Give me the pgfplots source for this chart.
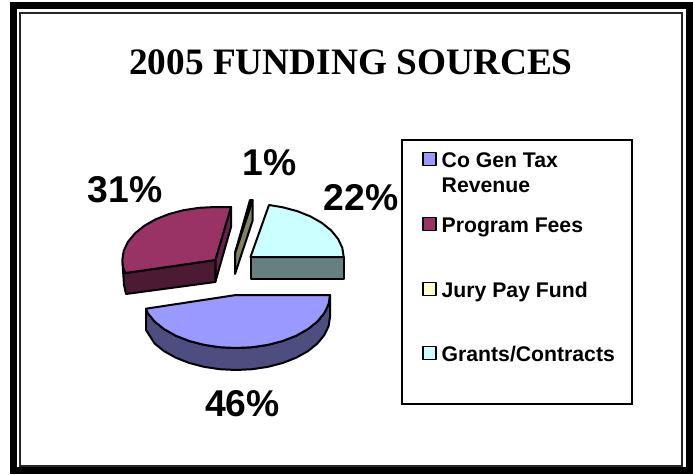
\documentclass[border=0pt]{standalone}
\usepackage{pgfplots}
\pgfplotsset{compat=1.18}
\usepackage{fontspec}
\setmainfont{Liberation Sans}
\newfontfamily\titlefont{Liberation Serif}
\definecolor{cblue}{HTML}{9999FF}
\definecolor{cbluew}{HTML}{4D4D80}
\definecolor{cmar}{HTML}{993366}
\definecolor{cmarw}{HTML}{4D1A33}
\definecolor{cmars}{HTML}{66224D}
\definecolor{cyel}{HTML}{FFFFCC}
\definecolor{cyelw}{HTML}{808066}
\definecolor{ccya}{HTML}{CCFFFF}
\definecolor{ccyaw}{HTML}{668080}
\begin{document}
\begin{tikzpicture}[x=1pt,y=1pt]
\useasboundingbox (0,0) rectangle (693,474);
\begin{axis}[at={(0,0)},anchor=south west,width=693pt,height=474pt,scale only axis,
  xmin=0,xmax=693,ymin=0,ymax=474,y dir=reverse,hide axis,clip=false,
  every axis plot/.append style={line width=2pt,line join=round}]
% frame
\addplot[draw=black,line width=7pt,line join=miter] coordinates {(13.5,5.5)(689.5,5.5)(689.5,470.5)(13.5,470.5)(13.5,5.5)(689.5,5.5)};
\addplot[draw=black!85,line width=2pt,line join=miter] coordinates {(20,13)(682,13)(682,466)(20,466)(20,13)(682,13)};
% cyan
\addplot[draw=black,fill=ccyaw] coordinates {(250.5,257)(343.7,257)(343.7,279)(250.5,279)} -- cycle;
\addplot[draw=black,fill=ccya] coordinates {(250.5,257)(269,205)(282.4,207.2)(297.1,211.1)(310.4,216.4)(321.9,222.9)(331.2,230.5)(338.1,238.9)(342.3,247.8)(343.7,257)} -- cycle;
% maroon
\addplot[draw=black,fill=cmars] coordinates {(231,207)(231,227)(215.3,282)(215.3,260)} -- cycle;
\addplot[draw=black,fill=cmarw] coordinates {(215.3,260)(215.3,282)(126,294)(124,285)(122.5,262)(125.4,273)} -- cycle;
\addplot[draw=black,fill=cmar] coordinates {(215.3,260)(231,207)(215.3,207)(199.2,207.8)(183.5,210.2)(168.8,214.1)(155.5,219.4)(144.1,225.9)(134.8,233.5)(127.9,241.9)(123.7,250.8)(122.3,260)(123,267)(125.4,273)} -- cycle;
% small wedge
\addplot[draw=black,fill=cyelw] coordinates {(252.5,200)(252.5,221)(235,274)(235,253)} -- cycle;
\addplot[draw=black,fill=cyel] coordinates {(235,253)(250,200)(252.5,200)} -- cycle;
% blue
\addplot[draw=black,fill=cbluew] coordinates {(330,295)(328.6,304.2)(324.3,313.1)(317.4,321.5)(308,329.1)(296.4,335.6)(283,340.9)(268.1,344.8)(252.3,347.2)(236,348)(219.7,347.2)(203.9,344.8)(189,340.9)(175.6,335.6)(164,329.1)(154.6,321.5)(147.7,313.1)(146,308.7)(146,330)(154.6,343.5)(164,351.1)(175.6,357.6)(189,362.9)(203.9,366.8)(219.7,369.2)(236,370)(252.3,369.2)(268.1,366.8)(283,362.9)(296.4,357.6)(308,351.1)(317.4,343.5)(324.3,335.1)(328.6,326.2)(330,317)} -- cycle;
\addplot[draw=black,fill=cblue] coordinates {(236,295)(330,295)(328.6,304.2)(324.3,313.1)(317.4,321.5)(308,329.1)(296.4,335.6)(283,340.9)(268.1,344.8)(252.3,347.2)(236,348)(219.7,347.2)(203.9,344.8)(189,340.9)(175.6,335.6)(164,329.1)(154.6,321.5)(147.7,313.1)(146,308.7)} -- cycle;
% legend box
\addplot[draw=black,line width=1.5pt,line join=miter] coordinates {(402,140)(632,140)(632,404)(402,404)(402,140)(632,140)};
% legend keys
\addplot[only marks,mark=square*,mark size=6.5pt,mark options={draw=black,fill=cblue,line width=1.7pt}] coordinates {(429.5,159)};
\addplot[only marks,mark=square*,mark size=6.5pt,mark options={draw=black,fill=cmar,line width=1.7pt}] coordinates {(429.5,224)};
\addplot[only marks,mark=square*,mark size=6.5pt,mark options={draw=black,fill=cyel,line width=1.7pt}] coordinates {(429.5,289)};
\addplot[only marks,mark=square*,mark size=6.5pt,mark options={draw=black,fill=ccya,line width=1.7pt}] coordinates {(429.5,353)};
% texts
\node[anchor=base,font=\titlefont\fontsize{37.3}{37.3}\selectfont\bfseries] at (axis cs:351,74) {2005 FUNDING SOURCES};
\node[anchor=base,font=\fontsize{37.3}{37}\selectfont\bfseries] at (axis cs:125,202) {31\%};
\node[anchor=base,font=\fontsize{37.3}{37}\selectfont\bfseries] at (axis cs:269.5,175) {1\%};
\node[anchor=base,font=\fontsize{37.3}{37}\selectfont\bfseries] at (axis cs:361,210) {22\%};
\node[anchor=base,font=\fontsize{37.3}{37}\selectfont\bfseries] at (axis cs:242.5,416) {46\%};
\begin{scope}[every node/.style={anchor=base west,inner sep=0pt,font=\fontsize{21.2}{21.2}\selectfont\bfseries}]
\node at (axis cs:441.5,167) {Co Gen Tax};
\node at (axis cs:441.5,192.5) {Revenue};
\node at (axis cs:441.5,232) {Program Fees};
\node at (axis cs:441.5,297) {Jury Pay Fund};
\node at (axis cs:441.5,361) {Grants/Contracts};
\end{scope}
\end{axis}
\end{tikzpicture}
\end{document}
